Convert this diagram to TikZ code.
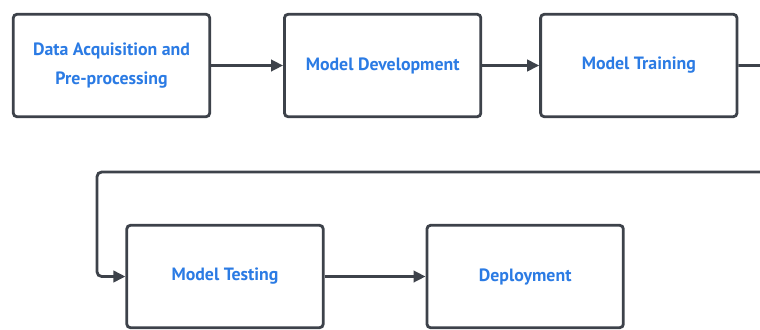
\documentclass[tikz,border=0pt]{standalone}
\usepackage{fontspec}
\setmainfont{PT Sans}
\usepackage{tikz}
\usetikzlibrary{arrows.meta,positioning}

\definecolor{edgegray}{HTML}{3D424A}
\definecolor{stepblue}{HTML}{2B7BE4}

\begin{document}
\begin{tikzpicture}[
  x=0.3mm, y=-0.3mm,
  box/.style={draw=edgegray, line width=2.4pt, rounded corners=3pt, minimum width=58.9mm, minimum height=30.7mm,
    align=center, fill=white, font=\bfseries\fontsize{15.2}{24}\selectfont, text=stepblue},
  arr/.style={-{Triangle[length=3.6mm, width=3.4mm]}, line width=2.4pt, draw=edgegray}
]
  \useasboundingbox (0,0) rectangle (760,329);

  \node[box] (acq) at (111.5,65.5) {Data Acquisition and\\Pre-processing};
  \node[box, right=21.6mm of acq] (dev) {Model Development};
  \node[box, right=17.1mm of dev] (train) {Model Training};
  \node[box] (test) at (225,276.5) {Model Testing};
  \node[box, right=30.3mm of test] (deploy) {Deployment};

  % return path runs past the right edge
  \coordinate (turn) at (790,172);
  \coordinate (back) at (97,172);

  \draw[arr] (acq) -- (dev);
  \draw[arr] (dev) -- (train);
  \draw[arr, rounded corners=4pt] (train.east) -| (turn) -- (back) |- (test.west);
  \draw[arr] (test) -- (deploy);
\end{tikzpicture}
\end{document}
